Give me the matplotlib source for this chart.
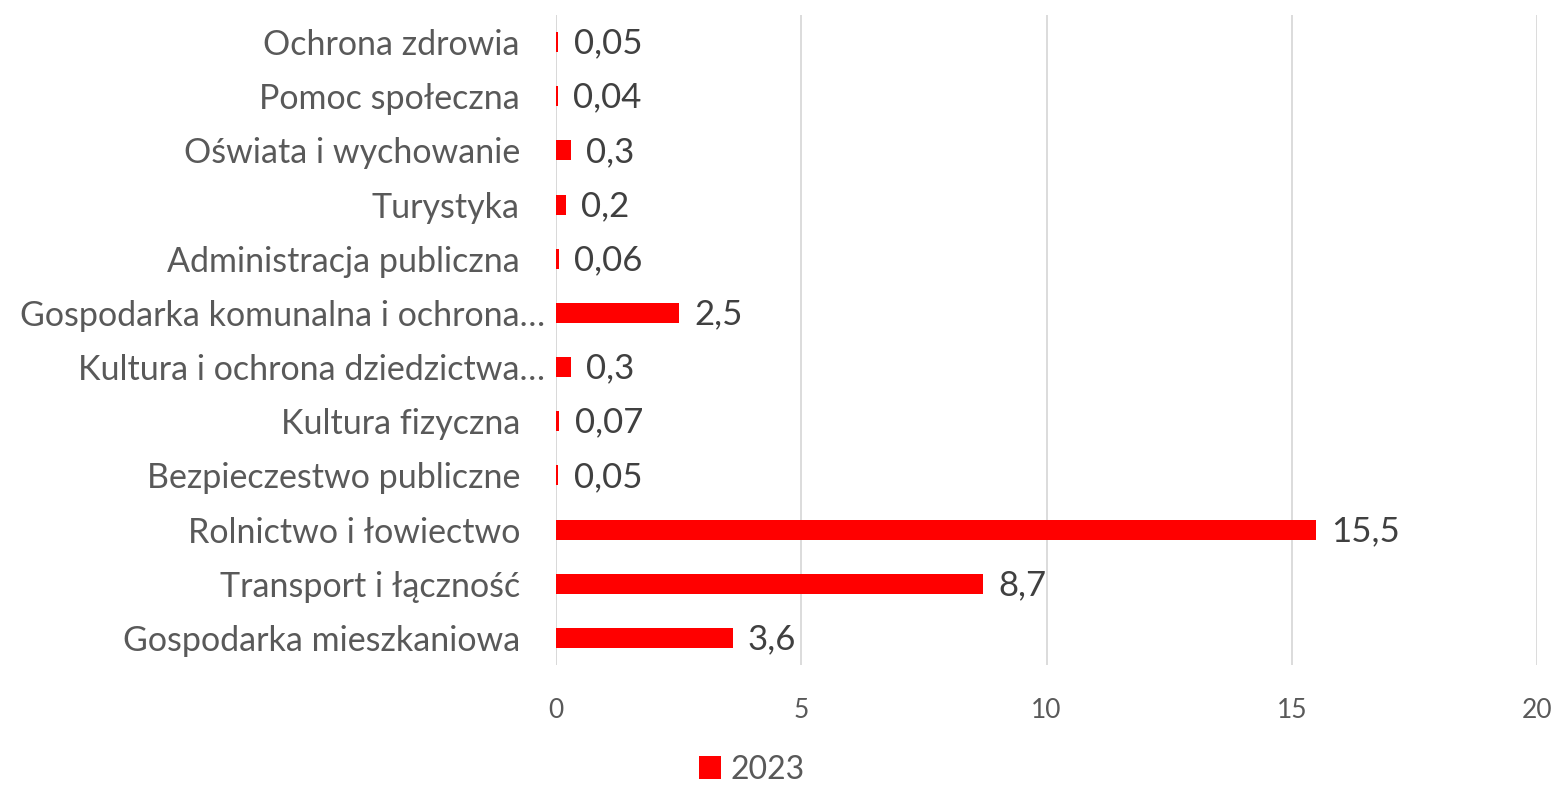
import matplotlib
matplotlib.use("Agg")
import matplotlib.pyplot as plt
import matplotlib.transforms as mtransforms
import numpy as np

categories = [
    "Gospodarka mieszkaniowa",
    "Transport i łączność",
    "Rolnictwo i łowiectwo",
    "Bezpieczestwo publiczne",
    "Kultura fizyczna",
    "Kultura i ochrona dziedzictwa…",
    "Gospodarka komunalna i ochrona…",
    "Administracja publiczna",
    "Turystyka",
    "Oświata i wychowanie",
    "Pomoc społeczna",
    "Ochrona zdrowia",
]
values_2023 = [3.6, 8.7, 15.5, 0.05, 0.07, 0.3, 2.5, 0.06, 0.2, 0.3, 0.04, 0.05]
value_labels = ["3,6", "8,7", "15,5", "0,05", "0,07", "0,3", "2,5", "0,06", "0,2", "0,3", "0,04", "0,05"]
x_ticks = [0, 5, 10, 15, 20]
series_name = "2023"

plt.rcParams['font.family'] = ['Lato', 'DejaVu Sans']

fig = plt.figure(figsize=(15.56, 7.85), dpi=100)
ax = fig.add_axes([556 / 1556, 1 - 665 / 785, (1537 - 556) / 1556, 650 / 785])

y = np.arange(len(categories))
bars = ax.barh(y, values_2023, height=0.37, color='#FF0000', label=series_name, zorder=3)

for b, lab in zip(bars, value_labels):
    ax.annotate(lab, (b.get_width(), b.get_y() + b.get_height() / 2),
                xytext=(11, -1), textcoords='offset points',
                va='center', ha='left', fontsize=25, color='#404040')

ax.set_xlim(0, 20)
ax.set_ylim(-0.5, len(categories) - 0.5)
ax.set_xticks(x_ticks)
ax.set_xticklabels([str(t) for t in x_ticks])
ax.set_yticks(y)
ax.set_yticklabels(categories)

ax.grid(axis='x', color='#D9D9D9', linewidth=1.3, zorder=0)
ax.axvline(0, color='#D9D9D9', linewidth=1.3, zorder=1)
for s in ax.spines.values():
    s.set_visible(False)

ax.tick_params(axis='x', length=0, pad=24, labelsize=19, labelcolor='#595959')
ax.tick_params(axis='y', length=0, pad=26, labelsize=24.5, labelcolor='#595959')

# the truncated labels sit closer to the axis
for lbl in ax.get_yticklabels():
    if lbl.get_text().endswith("…"):
        lbl.set_transform(lbl.get_transform() + mtransforms.ScaledTranslation(25 / 100, 0, fig.dpi_scale_trans))

leg = fig.legend(loc='lower center', bbox_to_anchor=(752 / 1556, -0.036), frameon=False,
                 fontsize=23, handlelength=0.7, handleheight=0.7, handletextpad=0.3,
                 labelcolor='#595959')

fig.savefig('out.png', dpi=100)
